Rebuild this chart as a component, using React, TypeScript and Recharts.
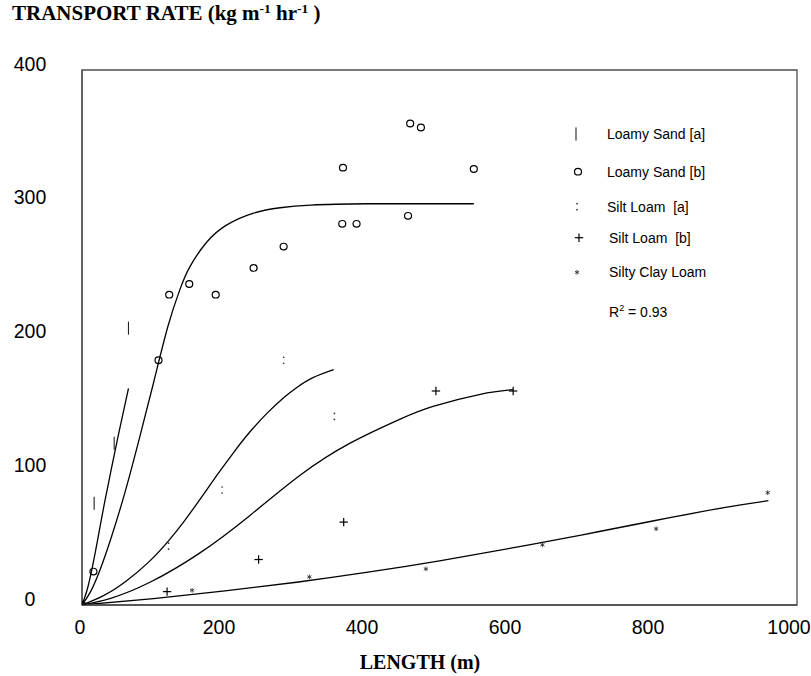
import React from 'react';
import { ComposedChart, Line, Scatter, XAxis, YAxis, Legend, ReferenceArea } from 'recharts';

// ---- observed points ----
const loamySandAPts = [
  { x: 17, y: 76 },
  { x: 45, y: 121 },
  { x: 65, y: 207 },
];
const loamySandBPts = [
  { x: 0, y: 0 },
  { x: 16, y: 25 },
  { x: 107, y: 183 },
  { x: 122, y: 232 },
  { x: 150, y: 240 },
  { x: 187, y: 232 },
  { x: 240, y: 252 },
  { x: 282, y: 268 },
  { x: 364, y: 285 },
  { x: 365, y: 327 },
  { x: 384, y: 285 },
  { x: 456, y: 291 },
  { x: 459, y: 360 },
  { x: 474, y: 357 },
  { x: 548, y: 326 },
];
const siltLoamAPts = [
  { x: 121, y: 44 },
  { x: 196, y: 86 },
  { x: 282, y: 183 },
  { x: 353, y: 141 },
];
const siltLoamBPts = [
  { x: 0, y: 0 },
  { x: 119, y: 10 },
  { x: 247, y: 34 },
  { x: 366, y: 62 },
  { x: 495, y: 160 },
  { x: 603, y: 160 },
];
const siltyClayLoamPts = [
  { x: 154, y: 11 },
  { x: 318, y: 21 },
  { x: 481, y: 27 },
  { x: 644, y: 45 },
  { x: 803, y: 57 },
  { x: 959, y: 84 },
];

// ---- fitted curves ----
const loamySandACurve = [
  { x: 0, y: 0 }, { x: 7, y: 11 }, { x: 14, y: 27 }, { x: 22, y: 49 },
  { x: 31, y: 75 }, { x: 40, y: 99 }, { x: 50, y: 125 }, { x: 65, y: 162 },
];
const loamySandBCurve = [
  { x: 0, y: 0 }, { x: 12, y: 10 }, { x: 25, y: 26 }, { x: 40, y: 49 },
  { x: 60, y: 84 }, { x: 80, y: 124 }, { x: 100, y: 166 }, { x: 120, y: 208 },
  { x: 137, y: 236 }, { x: 151, y: 253 }, { x: 174, y: 271 },
  { x: 202, y: 284 }, { x: 240, y: 293 }, { x: 277, y: 297 }, { x: 320, y: 299 },
  { x: 400, y: 300 }, { x: 548, y: 300 },
];
const siltLoamACurve = [
  { x: 0, y: 0 }, { x: 30, y: 7 }, { x: 62, y: 18 }, { x: 95, y: 33 },
  { x: 121, y: 48 }, { x: 142, y: 62 }, { x: 165, y: 79 }, { x: 188, y: 96.5 },
  { x: 212, y: 114 }, { x: 235, y: 129.5 }, { x: 260, y: 144 }, { x: 282, y: 155 },
  { x: 300, y: 162.5 }, { x: 323, y: 170 }, { x: 352, y: 176 },
];
const siltLoamBCurve = [
  { x: 0, y: 0 }, { x: 40, y: 5 }, { x: 95, y: 17 }, { x: 165, y: 39 },
  { x: 235, y: 67 }, { x: 305, y: 97 }, { x: 375, y: 121 }, { x: 445, y: 139 },
  { x: 491, y: 148.5 }, { x: 557, y: 157.5 }, { x: 603, y: 161 },
];
const siltyClayLoamCurve = [
  { x: 0, y: 0 }, { x: 100, y: 4.8 }, { x: 200, y: 10.5 }, { x: 300, y: 17 },
  { x: 400, y: 24.5 }, { x: 500, y: 33 }, { x: 600, y: 42.5 }, { x: 700, y: 52.5 },
  { x: 800, y: 63 }, { x: 900, y: 73 }, { x: 960, y: 78 },
];

const xTicks = [0, 200, 400, 600, 800, 1000];
const yTicks = [0, 100, 200, 300, 400];

const legendNames = ['Loamy Sand [a]', 'Loamy Sand [b]', 'Silt Loam  [a]', 'Silt Loam  [b]', 'Silty Clay Loam'];
const legendKinds = ['bar', 'o', 'colon', 'plus', 'star'];
const r2Text = '0.93';

const SANS = '"Liberation Sans", Arial, Helvetica, sans-serif';
const SERIF = '"Liberation Serif", "Times New Roman", serif';
const BORDER = '#4d4d4d';

function marker(kind: string, cx: number, cy: number, key?: any) {
  switch (kind) {
    case 'bar':
      return <line key={key} x1={cx} x2={cx} y1={cy - 6.5} y2={cy + 6.5} stroke="#222" strokeWidth={1.1} />;
    case 'o':
      return <ellipse key={key} cx={cx} cy={cy} rx={3.5} ry={3.3} stroke="#000" strokeWidth={1.2} fill="none" />;
    case 'colon':
      return (
        <g key={key}>
          <circle cx={cx} cy={cy - 3} r={0.85} fill="#333" />
          <circle cx={cx} cy={cy + 3} r={0.85} fill="#333" />
        </g>
      );
    case 'plus':
      return (
        <g key={key} stroke="#000" strokeWidth={1.2}>
          <line x1={cx - 4.2} x2={cx + 4.2} y1={cy} y2={cy} />
          <line x1={cx} x2={cx} y1={cy - 4.2} y2={cy + 4.2} />
        </g>
      );
    case 'star':
    default:
      return (
        <g key={key} stroke="#333" strokeWidth={0.9}>
          <line x1={cx} x2={cx} y1={cy - 2.4} y2={cy + 2.4} />
          <line x1={cx - 2.1} x2={cx + 2.1} y1={cy - 1.2} y2={cy + 1.2} />
          <line x1={cx - 2.1} x2={cx + 2.1} y1={cy + 1.2} y2={cy - 1.2} />
        </g>
      );
  }
}

const shapeFor = (kind: string) => (props: any) => marker(kind, props.cx, props.cy);

const XTick = (props: any) => {
  const { x, y, payload } = props;
  const shift = payload.value === 0 ? -2 : -6;
  return (
    <text x={x + shift} y={y + 29} textAnchor="middle" fontFamily={SANS} fontSize={19.5} fill="#000">
      {payload.value}
    </text>
  );
};

const YTick = (props: any) => {
  const { y, payload } = props;
  return (
    <text x={30} y={y + 0.5} textAnchor="middle" fontFamily={SANS} fontSize={19.5} fill="#000">
      {payload.value}
    </text>
  );
};

const rowY = [24, 61.7, 96.7, 127.7, 162.3];
const symX = [16, 18, 17, 19, 17];
const textX = [47, 47, 47, 49, 49];

const LegendBox = () => (
  <svg width={220} height={220} style={{ display: 'block', overflow: 'visible' }}>
    {legendNames.map((name, i) => (
      <g key={name}>
        {marker(legendKinds[i], symX[i], rowY[i])}
        <text x={textX[i]} y={rowY[i] + 5} fontFamily={SANS} fontSize={14} fill="#000" style={{ whiteSpace: 'pre' }}>
          {name}
        </text>
      </g>
    ))}
    <text x={49} y={201.7 + 5} fontFamily={SANS} fontSize={14} fill="#000">
      R<tspan fontSize={9} dy={-6}>2</tspan>
      <tspan dy={6}>{' = ' + r2Text}</tspan>
    </text>
  </svg>
);

const curveProps = {
  dataKey: 'y',
  type: 'natural' as const,
  dot: false,
  activeDot: false,
  stroke: '#000',
  strokeWidth: 1.3,
  isAnimationActive: false,
  legendType: 'none' as const,
};

export default function App() {
  return (
    <div style={{ position: 'absolute', left: 0, top: 0, width: 811, height: 676, background: '#fff' }}>
      <ComposedChart width={811} height={676} margin={{ top: 70, right: 14, left: 0, bottom: 0 }}>
        <XAxis
          dataKey="x"
          type="number"
          domain={[0, 1000]}
          ticks={xTicks}
          tick={<XTick />}
          tickLine={false}
          tickSize={0}
          tickMargin={0}
          height={71}
          axisLine={{ stroke: BORDER, strokeWidth: 1.3 }}
          allowDataOverflow
        />
        <YAxis
          type="number"
          domain={[0, 400]}
          ticks={yTicks}
          tick={<YTick />}
          tickLine={false}
          tickSize={0}
          tickMargin={0}
          width={82}
          axisLine={{ stroke: BORDER, strokeWidth: 1.3 }}
          allowDataOverflow
        />
        <ReferenceArea x1={0} x2={1000} y1={0} y2={400} fill="none" fillOpacity={0} stroke={BORDER} strokeWidth={1.3} ifOverflow="visible" />
        <Legend
          layout="vertical"
          align="center"
          verticalAlign="middle"
          content={<LegendBox />}
          wrapperStyle={{ position: 'absolute', left: 560, top: 110, width: 220, height: 220 }}
        />
        <Line data={loamySandACurve} {...curveProps} />
        <Line data={loamySandBCurve} {...curveProps} />
        <Line data={siltLoamACurve} {...curveProps} />
        <Line data={siltLoamBCurve} {...curveProps} />
        <Line data={siltyClayLoamCurve} {...curveProps} />
        <Scatter name="Loamy Sand [a]" data={loamySandAPts} dataKey="y" shape={shapeFor('bar')} isAnimationActive={false} />
        <Scatter name="Loamy Sand [b]" data={loamySandBPts} dataKey="y" shape={shapeFor('o')} isAnimationActive={false} />
        <Scatter name="Silt Loam [a]" data={siltLoamAPts} dataKey="y" shape={shapeFor('colon')} isAnimationActive={false} />
        <Scatter name="Silt Loam [b]" data={siltLoamBPts} dataKey="y" shape={shapeFor('plus')} isAnimationActive={false} />
        <Scatter name="Silty Clay Loam" data={siltyClayLoamPts} dataKey="y" shape={shapeFor('star')} isAnimationActive={false} />
      </ComposedChart>
      <svg width={811} height={676} style={{ position: 'absolute', left: 0, top: 0, pointerEvents: 'none' }}>
        <text x={12} y={20} fontFamily={SERIF} fontWeight="bold" fontSize={21} fill="#000">
          TRANSPORT RATE (kg m<tspan fontSize={13.5} dy={-7}>-1</tspan>
          <tspan dy={7}> hr</tspan>
          <tspan fontSize={13.5} dy={-7}>-1</tspan>
          <tspan dy={7}> )</tspan>
        </text>
        <text x={420} y={669} textAnchor="middle" fontFamily={SERIF} fontWeight="bold" fontSize={20} fill="#000">
          LENGTH (m)
        </text>
      </svg>
    </div>
  );
}
